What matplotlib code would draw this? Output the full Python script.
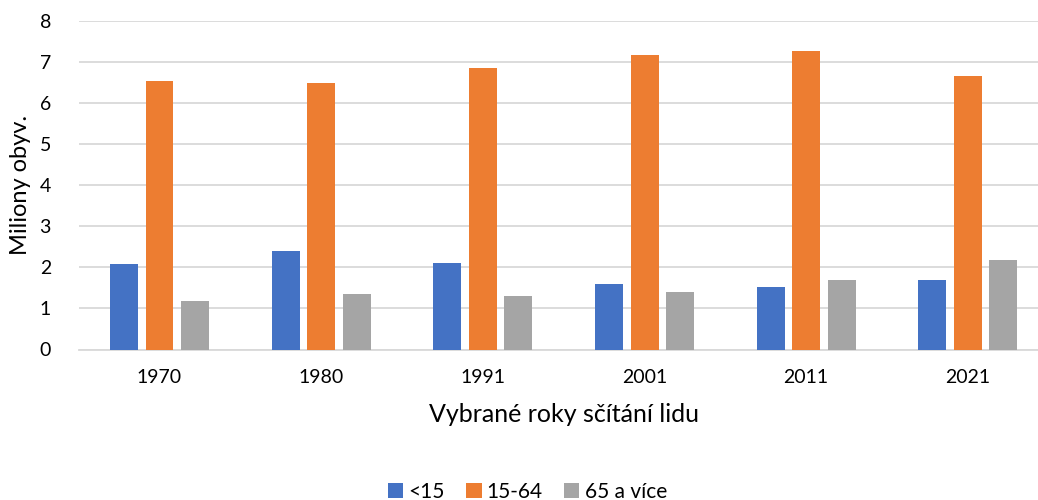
import numpy as np
import matplotlib.pyplot as plt

years = ['1970', '1980', '1991', '2001', '2011', '2021']
under15 = [2.07, 2.40, 2.10, 1.59, 1.52, 1.69]
working = [6.53, 6.48, 6.85, 7.17, 7.26, 6.65]
over65 = [1.18, 1.35, 1.30, 1.40, 1.69, 2.17]
labels = ['<15', '15-64', '65 a více']
colors = ['#4472C4', '#ED7D31', '#A5A5A5']

plt.rcParams['font.family'] = ['Lato', 'DejaVu Sans']

fig = plt.figure(figsize=(10.38, 5), dpi=100)
ax = fig.add_axes([0.0758, 0.301, 0.9345, 0.6576])

x = np.arange(len(years))
w = 0.173
step = 0.22
for i, (vals, lab, c) in enumerate(zip([under15, working, over65], labels, colors)):
    ax.bar(x + (i - 1) * step, vals, width=w, color=c, label=lab, zorder=3)

ax.set_xlim(-0.5, len(years) - 0.5)
ax.set_ylim(0, 8)
ax.set_yticks(range(0, 9))
ax.set_xticks(x)
ax.set_xticklabels(years)
ax.grid(axis='y', color='#D9D9D9', linewidth=1.3, zorder=0)
for s in ['top', 'right', 'left']:
    ax.spines[s].set_visible(False)
ax.spines['bottom'].set_color('#D9D9D9')
ax.spines['bottom'].set_linewidth(1.3)
ax.tick_params(length=0, labelsize=14, colors='#000000')
ax.tick_params(axis='x', pad=14)
ax.tick_params(axis='y', pad=20)

ax.set_ylabel('Miliony obyv.', fontsize=17, labelpad=6)
ax.set_xlabel('Vybrané roky sčítání lidu', fontsize=18, labelpad=12)

fig.legend(loc='center', bbox_to_anchor=(0.508, 0.016), ncol=3, frameon=False,
           fontsize=15, handlelength=0.75, handleheight=0.75, handletextpad=0.25,
           columnspacing=1.0)

fig.savefig('out.png', dpi=100)
